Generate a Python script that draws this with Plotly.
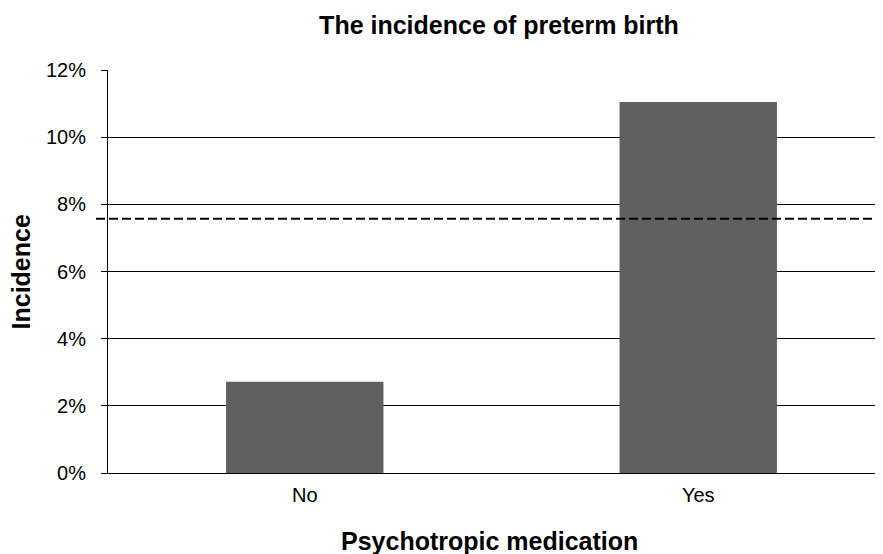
import plotly.graph_objects as go

categories = ["No", "Yes"]
incidence = [2.72, 11.05]          # percent
overall_incidence = 7.57           # percent, dashed reference line
y_ticks = [0, 2, 4, 6, 8, 10, 12]
y_tick_labels = ["0%", "2%", "4%", "6%", "8%", "10%", "12%"]

font_family = "Liberation Sans, Arial, sans-serif"

fig = go.Figure()
fig.add_trace(go.Bar(
    x=categories, y=incidence,
    marker=dict(color="#606060", line=dict(width=0)),
    width=0.4,
))

fig.add_shape(
    type="line", xref="paper", yref="y",
    x0=-0.0155, x1=1.0, y0=overall_incidence, y1=overall_incidence,
    line=dict(color="black", width=2.2, dash="9px,4px"),
    layer="above",
)

fig.add_annotation(
    text="<b>Incidence</b>", textangle=-90,
    xref="paper", yref="paper", x=-0.1123, y=0.5,
    xanchor="center", yanchor="middle", showarrow=False,
    font=dict(size=25, family=font_family, color="black"),
)
fig.add_annotation(
    text="<b>Psychotropic medication</b>",
    xref="paper", yref="paper", x=0.4923, y=-0.2084,
    xanchor="center", yanchor="bottom", showarrow=False,
    font=dict(size=25, family=font_family, color="black"),
)

fig.update_layout(
    width=875, height=546,
    margin=dict(l=100, r=0, t=62, b=81),
    paper_bgcolor="white", plot_bgcolor="white",
    showlegend=False,
    font=dict(family=font_family, color="black", size=20),
    title=dict(
        text="<b>The incidence of preterm birth</b>",
        x=491 / 875, xanchor="center", yref="container", y=1 - 17 / 546, yanchor="middle",
        font=dict(size=25, family=font_family, color="black"),
    ),
)

fig.update_xaxes(
    range=[-0.5, 1.4695],
    showgrid=False, showline=True, linecolor="black", linewidth=1,
    ticks="", tickfont=dict(size=20),
    ticklabelstandoff=4,
    zeroline=False,
)
fig.update_yaxes(
    range=[0, 12], tickvals=y_ticks, ticktext=y_tick_labels,
    showgrid=True, gridcolor="black", gridwidth=1,
    showline=True, linecolor="black", linewidth=1,
    ticks="outside", ticklen=6, tickcolor="black", tickwidth=1,
    ticklabelstandoff=11,
    tickfont=dict(size=20),
    zeroline=False,
)

fig.write_html("out.html")
